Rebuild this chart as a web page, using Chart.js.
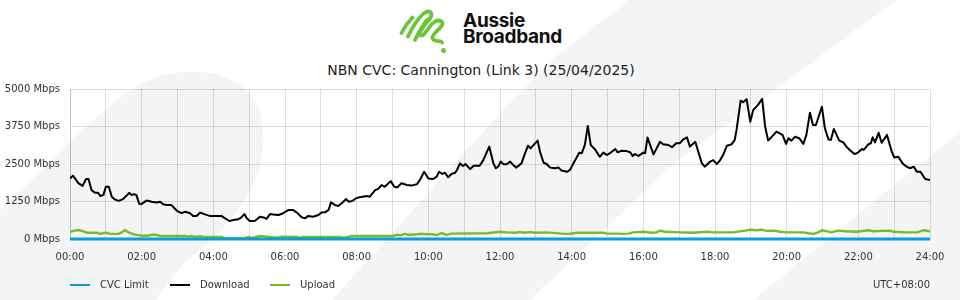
<!DOCTYPE html>
<html>
<head>
<meta charset="utf-8">
<script src="https://cdn.jsdelivr.net/npm/chart.js@4.4.1/dist/chart.umd.min.js"></script>
<style>
  html, body { margin:0; padding:0; }
  body { width:960px; height:300px; position:relative; overflow:hidden; background:#fff; font-family:'DejaVu Sans', sans-serif; }
  #bg { position:absolute; left:0; top:0; }
  #c { position:absolute; left:0; top:0; }
  .brand { position:absolute; left:463px; top:13px; font-family:Inter, Roboto, sans-serif; font-weight:700; font-size:19px; line-height:16px; color:#111; letter-spacing:-0.3px; }
  #title { position:absolute; left:0; width:962px; top:62px; text-align:center; font-size:14px; line-height:17px; color:#222; }
  .lg-line { position:absolute; width:20px; height:2px; top:284px; }
  .lg-text { position:absolute; top:279px; font-size:10px; line-height:12px; color:#333; white-space:nowrap; }
  #tz { position:absolute; right:30px; top:279px; font-size:10px; line-height:12px; color:#333; }
</style>
</head>
<body>
<svg id="bg" width="960" height="300" viewBox="0 0 960 300">
  <rect width="960" height="300" fill="#ffffff"/>
  <path fill="#f3f4f6" d="M0,210 C50,165 110,95 150,80 C180,68 215,68 240,85 C262,100 268,130 260,165 C250,205 215,240 185,262 L155,300 L0,300 Z"/>
  <path fill="#f3f4f6" d="M630,0 L897,0 C840,40 790,80 760,100 C720,130 690,150 667,170 L530,300 L332,300 L377,250 L500,113 L560,53 Z"/>
  <path fill="#f3f4f6" d="M960,132 L960,300 L753,300 Z"/>
  <!-- logo mark -->
  <g fill="none" stroke="#6cc437" stroke-width="3.8" stroke-linecap="round" stroke-linejoin="round">
    <path d="M401.5,33 C404,28 408,22 412.5,17.5"/>
    <path d="M408,36.5 C412,28 417,20 422,15 C425,12 429,10 431,13 C433,16 428,21 424,26 C421,30 418,34 421,35.5 C424,36.5 428,28 432,24 C435,21 439,19 442,22 C444,25 439,29 436,32 C432,36 431,39 435,40.5 C438,41.5 441,40.5 442,42.5"/>
    <path d="M415,40 C419,32 424,24 427,20"/>
  </g>
  <circle cx="443.5" cy="50.5" r="2.5" fill="#6cc437"/>
</svg>
<div class="brand">Aussie<br>Broadband</div>
<div id="title">NBN CVC: Cannington (Link 3) (25/04/2025)</div>
<canvas id="c" width="960" height="300"></canvas>
<div class="lg-line" style="left:70px;background:#0a9dda"></div>
<div class="lg-text" style="left:100px">CVC Limit</div>
<div class="lg-line" style="left:170px;background:#000"></div>
<div class="lg-text" style="left:200px">Download</div>
<div class="lg-line" style="left:270px;background:#77bc27"></div>
<div class="lg-text" style="left:300px">Upload</div>
<div id="tz">UTC+08:00</div>
<script>
// ---- data (minutes since 00:00, Mbps) ----
const dlTimes = [0,5,14,21,27,31,36,42,47,51,56,60,65,70,75,81,88,94,99,103,107,111,116,120,128,137,145,151,156,162,170,179,187,193,201,206,212,218,226,234,240,254,257,267,273,282,287,292,296,301,310,318,324,329,335,340,349,357,366,373,380,388,394,399,407,416,421,427,433,437,444,449,455,462,467,473,479,483,490,497,502,511,516,522,527,537,543,548,555,564,572,581,586,593,600,608,614,618,623,628,633,639,645,648,653,658,662,670,676,686,692,702,709,713,717,721,726,731,737,742,747,756,762,767,771,783,787,793,798,804,812,818,823,832,837,846,853,857,862,867,872,879,887,893,899,904,913,917,923,932,938,942,946,952,960,963,967,977,988,993,1002,1008,1015,1021,1027,1033,1038,1047,1052,1058,1063,1072,1077,1083,1088,1094,1100,1108,1113,1116,1123,1127,1133,1139,1144,1152,1159,1164,1169,1178,1183,1193,1199,1203,1208,1214,1221,1228,1233,1239,1244,1249,1259,1264,1270,1274,1279,1288,1295,1300,1307,1314,1320,1326,1329,1337,1341,1344,1348,1354,1359,1368,1376,1380,1387,1394,1401,1406,1413,1418,1424,1432,1440];
const dlValues = [2020,2110,1860,1770,2000,2000,1630,1540,1540,1430,1470,1740,1740,1410,1320,1270,1320,1430,1540,1470,1490,1470,1170,1170,1280,1240,1220,1240,1160,1130,1130,940,860,910,860,770,770,880,820,770,770,770,720,600,630,660,720,830,690,600,610,740,720,670,830,820,800,860,970,970,880,720,690,770,740,800,880,890,970,1220,1130,1100,1190,1330,1240,1270,1360,1380,1410,1430,1410,1630,1670,1800,1740,1930,1740,1720,1860,1800,1780,1830,1970,2240,2020,2000,2080,2240,2170,2210,2060,2170,2210,2300,2520,2430,2500,2330,2440,2440,2630,3080,2520,2360,2410,2580,2490,2490,2580,2470,2380,2520,2860,3110,3020,3280,2910,2540,2500,2380,2360,2380,2280,2240,2300,2630,2880,2860,3130,3770,3130,2990,2740,2880,2800,2860,3000,2890,2940,2930,2890,2770,2830,2770,2880,2860,3380,2820,3240,3160,3130,3060,3190,3190,3320,3390,3080,3240,2910,2520,2410,2580,2630,2500,2610,2820,3110,3160,3300,3630,4610,4560,4660,3910,4300,4470,4670,3740,3280,3470,3580,3470,3170,3360,3280,3410,3360,3170,3470,4210,3800,3800,4410,3690,3320,3300,3670,3280,3220,3080,2940,2830,2890,3000,2970,3160,3190,3390,3220,3540,3210,3470,2910,2720,2740,2520,2410,2360,2410,2240,2240,2000,1970];
const ulTimes = [0,8,14,20,28,45,50,60,67,81,87,92,98,106,114,120,131,137,145,151,162,193,198,204,209,218,223,254,257,293,299,304,313,318,329,346,354,380,385,391,452,458,466,472,541,547,553,561,566,581,586,606,614,622,631,639,698,720,731,748,754,759,771,779,798,823,837,848,893,899,915,924,935,943,960,974,982,988,996,1021,1044,1066,1077,1111,1127,1141,1150,1158,1166,1178,1189,1200,1217,1228,1236,1245,1253,1259,1267,1275,1286,1298,1317,1337,1345,1373,1379,1401,1418,1429,1440];
const ulValues = [240,280,300,270,210,210,170,210,170,170,220,300,220,160,130,110,110,140,140,100,100,100,80,100,70,90,70,70,30,30,70,30,80,100,80,40,80,70,40,70,70,40,70,100,100,140,120,170,140,160,170,160,130,200,140,180,190,240,220,210,240,210,230,210,220,180,170,210,210,180,180,170,180,220,240,210,220,280,240,220,210,240,220,220,270,310,290,310,270,280,240,220,220,220,190,170,220,290,260,220,280,260,240,290,260,280,240,220,220,290,260];
const cvcTimes = [0,1440];
const cvcValues = [0,0];
const xTickLabels = ['00:00','02:00','04:00','06:00','08:00','10:00','12:00','14:00','16:00','18:00','20:00','22:00','24:00'];
const yTickValues = [0,1250,2500,3750,5000];

const pts = (t, v) => t.map((x, i) => ({x, y: v[i]}));

Chart.defaults.font.family = "'DejaVu Sans', sans-serif";
Chart.defaults.font.size = 10;
Chart.defaults.color = '#333';

const gridColor = 'rgba(0,0,0,0.13)';

new Chart(document.getElementById('c'), {
  type: 'line',
  data: {
    datasets: [
      { label: 'Download', data: pts(dlTimes, dlValues), borderColor: '#000', borderWidth: 2, order: 2 },
      { label: 'Upload', data: pts(ulTimes, ulValues), borderColor: '#77bc27', borderWidth: 2.4, order: 1 },
      { label: 'CVC Limit', data: pts(cvcTimes, cvcValues), borderColor: '#0a9dda', borderWidth: 3, order: 0, clip: 4 }
    ]
  },
  options: {
    responsive: false,
    animation: false,
    events: [],
    layout: { padding: { top: 89, right: 30, left: 0, bottom: 0 } },
    elements: { point: { radius: 0 }, line: { tension: 0, borderCapStyle: 'butt', borderJoinStyle: 'round' } },
    plugins: { legend: { display: false }, title: { display: false }, tooltip: { enabled: false } },
    scales: {
      x: {
        type: 'linear', min: 0, max: 1440,
        afterFit: s => { s.height = 61; },
        afterBuildTicks: s => { s.ticks = Array.from({length: 25}, (_, i) => ({value: i * 60})); },
        ticks: { autoSkip: false, maxRotation: 0, padding: 12,
          callback: v => (v % 120 === 0 ? xTickLabels[v / 120] : '') },
        grid: { color: gridColor, drawTicks: false },
        border: { color: gridColor }
      },
      y: {
        min: 0, max: 5000,
        afterFit: s => { s.width = 70; },
        afterBuildTicks: s => { s.ticks = yTickValues.map(v => ({value: v})); },
        ticks: { padding: 10, callback: v => v + ' Mbps' },
        grid: { color: gridColor, drawTicks: false },
        border: { color: gridColor }
      }
    }
  }
});
</script>
</body>
</html>
